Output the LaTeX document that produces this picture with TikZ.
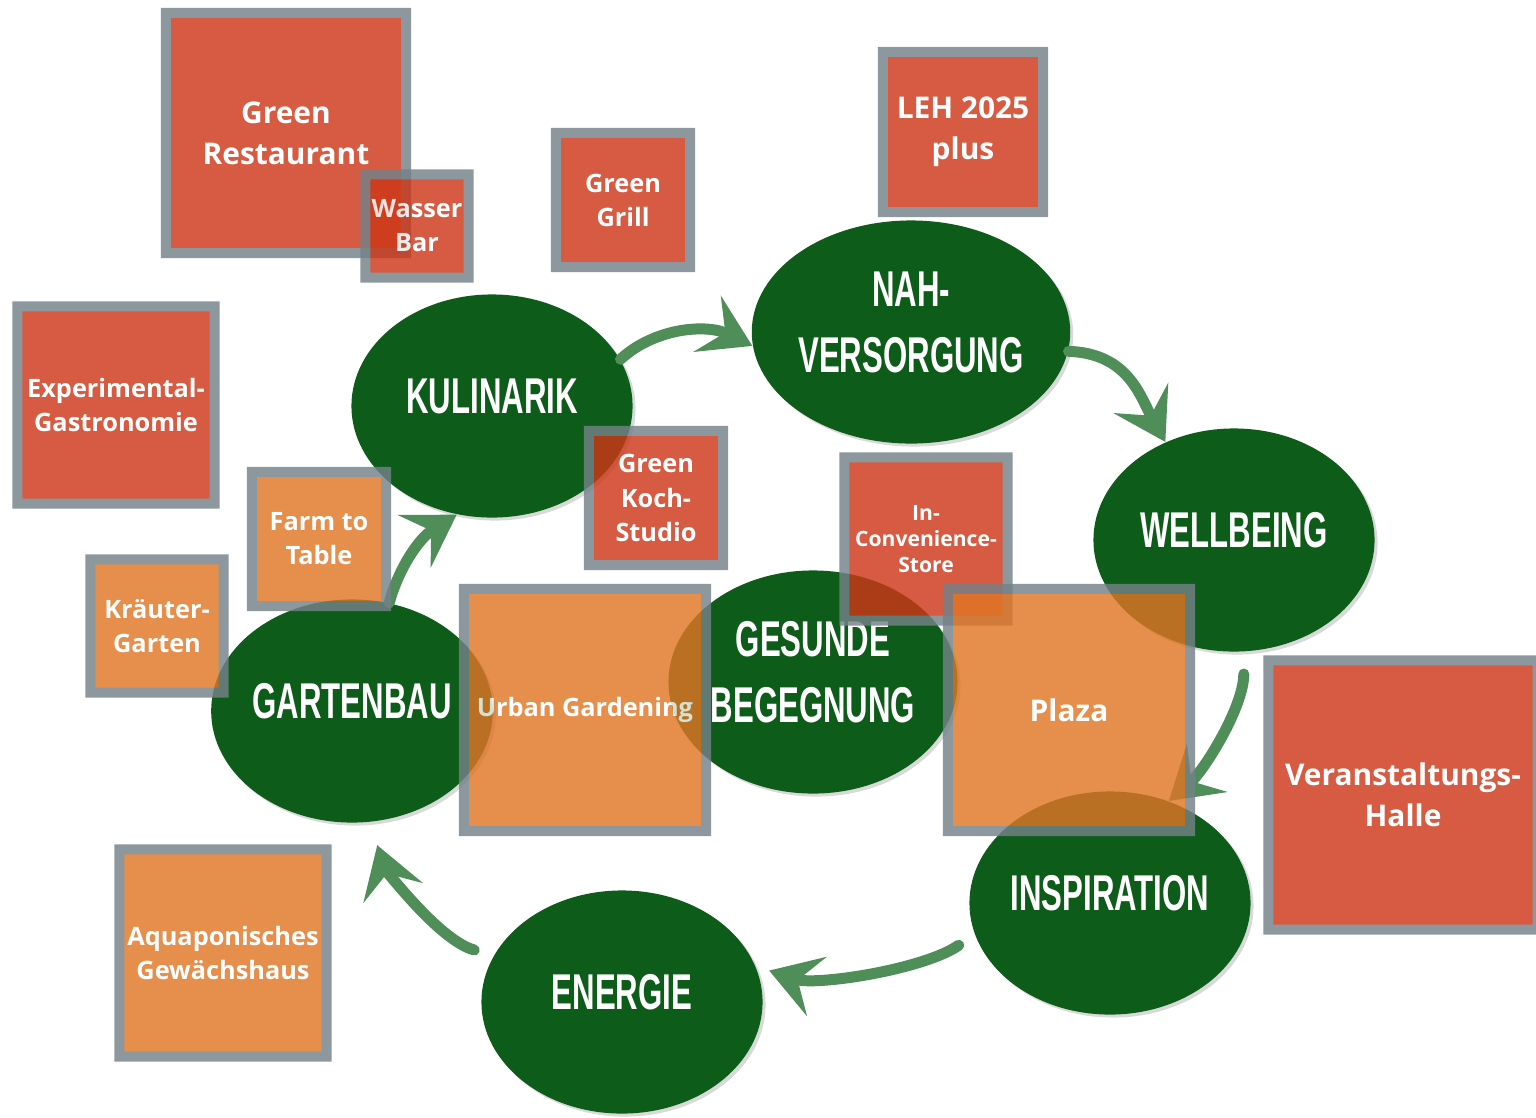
\documentclass[tikz,border=0pt]{standalone}
\usepackage{fontspec}
\newfontfamily\hubfont[FakeStretch=0.62]{Liberation Sans}
\newfontfamily\boxfont{Open Sans}
\usetikzlibrary{arrows.meta,shapes.geometric,shadows}

\definecolor{hubgreen}{HTML}{0E5C1A}
\definecolor{flowgreen}{HTML}{4F8D59}
\definecolor{roomred}{HTML}{CD3718}
\definecolor{roomorange}{HTML}{E07525}
\definecolor{rim}{HTML}{748189}

\tikzset{
  hub/.style={ellipse, fill=hubgreen, minimum width=2.81cm, minimum height=2.23cm, inner sep=0pt,
    text=white, align=center, font=\hubfont\bfseries\fontsize{14.3}{18.8}\selectfont,
    execute at end node={\rule[-0.2cm]{0pt}{0.2cm}},
    drop shadow={shadow xshift=0.03cm, shadow yshift=-0.03cm, opacity=0.3}},
  room/.style={draw=rim, line width=0.1cm, inner sep=0pt, align=center, text=white,
    font=\boxfont\bfseries\fontsize{7.2}{9.7}\selectfont},
  redroom/.style={room, fill=roomred},
  orangeroom/.style={room, fill=roomorange},
  bigtext/.style={font=\boxfont\bfseries\fontsize{8.5}{11.7}\selectfont},
  tinytext/.style={font=\boxfont\bfseries\fontsize{6}{7.4}\selectfont},
  glass/.style={transparency group, opacity=0.82},
  flow/.style={draw=flowgreen, line width=0.11cm, line cap=round,
    -{Stealth[length=0.5cm, width=0.62cm, inset=0.2cm]}},
}

\begin{document}
\begin{tikzpicture}[x=0.01cm, y=-0.01cm]

\useasboundingbox (0,0) rectangle (1536,1117);
\clip (0,0) rectangle (1536,1117);

% themes
\node[hub] (kul) at (492,406) {KULINARIK};
\node[hub] (nah) at (911,332) {NAH-\\VERSORGUNG};
\node[hub] (well) at (1234,540) {WELLBEING};
\node[hub] (ges) at (813,682) {GESUNDE\\BEGEGNUNG};
\node[hub] (gar) at (352,711) {GARTENBAU};
\node[hub] (insp) at (1110,903) {INSPIRATION};
\node[hub] (ene) at (622,1002) {ENERGIE};

% cycle
\draw[flow] (kul.20) .. controls +(35,-32) and +(-45,-22) .. (nah.185);
\draw[flow] (nah.-7) .. controls +(60,2) and +(-25,-45) .. (well.125);
\draw[flow, shorten <=0.22cm] (well.-85) .. controls +(0,55) and +(35,-30) .. (insp.60);
\draw[flow, shorten <=0.19cm, shorten >=0.14cm] (insp.193) .. controls +(-50,35) and +(60,20) .. (ene.15);
\draw[flow, shorten <=0.2cm, shorten >=0.24cm] (ene.160) .. controls +(-55,-15) and +(15,45) .. (gar.-81);
\draw[flow] (gar.71) .. controls +(8,-30) and +(-40,25) .. (kul.-108);

% rooms
\begin{scope}[glass]
\node[redroom, bigtext, minimum size=2.4cm] (grest) at (286,133) {Green\\Restaurant};
\end{scope}
\begin{scope}[glass]
\node[redroom, minimum size=1.03cm] (wbar) at (417,226) {Wasser\\Bar};
\end{scope}
\begin{scope}[glass]
\node[redroom, minimum size=1.34cm] (ggrill) at (623,200) {Green\\Grill};
\end{scope}
\begin{scope}[glass]
\node[redroom, bigtext, minimum size=1.6cm] (leh) at (963,132) {LEH 2025\\plus};
\end{scope}
\begin{scope}[glass]
\node[redroom, minimum size=1.97cm] (exgas) at (116,405) {Experimental-\\Gastronomie};
\end{scope}
\begin{scope}[glass]
\node[orangeroom, minimum size=1.34cm] (farm) at (319,539) {Farm to\\Table};
\end{scope}
\begin{scope}[glass]
\node[orangeroom, minimum size=1.33cm] (kraut) at (157,626) {Kräuter-\\Garten};
\end{scope}
\begin{scope}[glass]
\node[redroom, minimum size=1.34cm] (koch) at (656,498) {Green\\Koch-\\Studio};
\end{scope}
\begin{scope}[glass]
\node[redroom, tinytext, minimum size=1.63cm] (store) at (926,539) {In-\\Convenience-\\Store};
\end{scope}
\begin{scope}[glass]
\node[orangeroom, minimum size=2.42cm] (urban) at (585,710) {Urban Gardening};
\end{scope}
\begin{scope}[glass]
\node[orangeroom, bigtext, minimum size=2.42cm] (plaza) at (1069,710) {Plaza};
\end{scope}
\begin{scope}[glass]
\node[redroom, bigtext, minimum size=2.69cm] (halle) at (1403,795) {Veranstaltungs-\\Halle};
\end{scope}
\begin{scope}[glass]
\node[orangeroom, minimum size=2.07cm] (aqua) at (223,953) {Aquaponisches\\Gewächshaus};
\end{scope}

\end{tikzpicture}
\end{document}
